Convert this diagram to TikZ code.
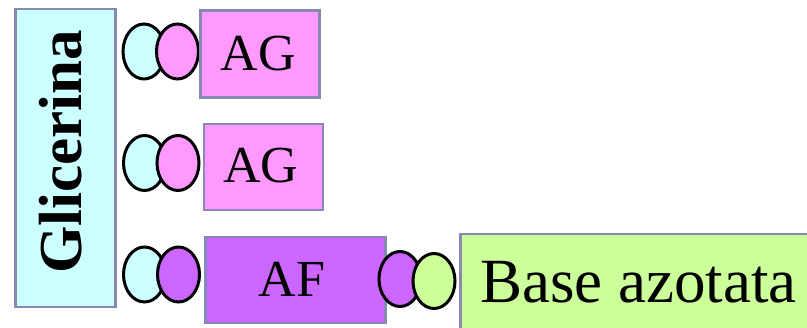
\documentclass[tikz,border=0pt]{standalone}
\usepackage{fontspec}
\setmainfont{Liberation Serif}
\usetikzlibrary{shapes.geometric}
\definecolor{cyanf}{RGB}{204,255,255}
\definecolor{pinkf}{RGB}{255,153,255}
\definecolor{purplef}{RGB}{204,102,255}
\definecolor{greenf}{RGB}{204,255,153}
\definecolor{boxline}{RGB}{136,136,180}
\tikzset{
  box/.style={draw=boxline, line width=2.5pt, rectangle, inner sep=0pt, anchor=north west},
  bead/.style={draw=black, line width=3pt, ellipse, inner sep=0pt, minimum width=42pt, minimum height=55pt},
  lbl/.style={inner sep=0pt, text=black},
}
\begin{document}
\begin{tikzpicture}[x=1pt,y=-1pt]
\useasboundingbox (0,0) rectangle (807,328);
\clip (0,0) rectangle (807,328);
\fill[white] (0,0) rectangle (807,328);
% Glicerina
\node[box, fill=cyanf, minimum width=100pt, minimum height=298pt] (gli) at (14,8) {};
\node[lbl, rotate=90, font=\fontsize{61}{61}\selectfont\bfseries] (glit) at (61,152) {Glicerina};
% Row 1
\node[bead, fill=cyanf] (c1) at (144,51.5) {};
\node[bead, fill=pinkf] (p1) at (177.5,51.5) {};
\node[box, fill=pinkf, minimum width=119pt, minimum height=87pt] (ag1) at (199,9.5) {};
\node[lbl, font=\fontsize{52}{52}\selectfont] (ag1t) at (258.5,53.5) {AG};
% Row 2
\node[bead, fill=cyanf] (c2) at (144.5,163) {};
\node[bead, fill=pinkf] (p2) at (178,163) {};
\node[box, fill=pinkf, minimum width=119pt, minimum height=86pt] (ag2) at (202.5,123) {};
\node[lbl, font=\fontsize{52}{52}\selectfont] (ag2t) at (261,166) {AG};
% Row 3
\node[bead, fill=cyanf] (c3) at (144.5,274.5) {};
\node[bead, fill=purplef] (p3) at (178.5,274.5) {};
\node[box, fill=purplef, minimum width=180pt, minimum height=86pt] (af) at (204,236) {};
\node[lbl, font=\fontsize{52}{52}\selectfont] (aft) at (292,279.5) {AF};
\node[bead, fill=purplef] (p4) at (400,279) {};
\node[bead, fill=greenf] (g4) at (434,281) {};
\node[box, fill=greenf, minimum width=380pt, minimum height=120pt] (base) at (459,233) {};
\node[lbl, font=\fontsize{63}{63}\selectfont] (baset) at (638.5,282.5) {Base azotata};
\end{tikzpicture}
\end{document}
